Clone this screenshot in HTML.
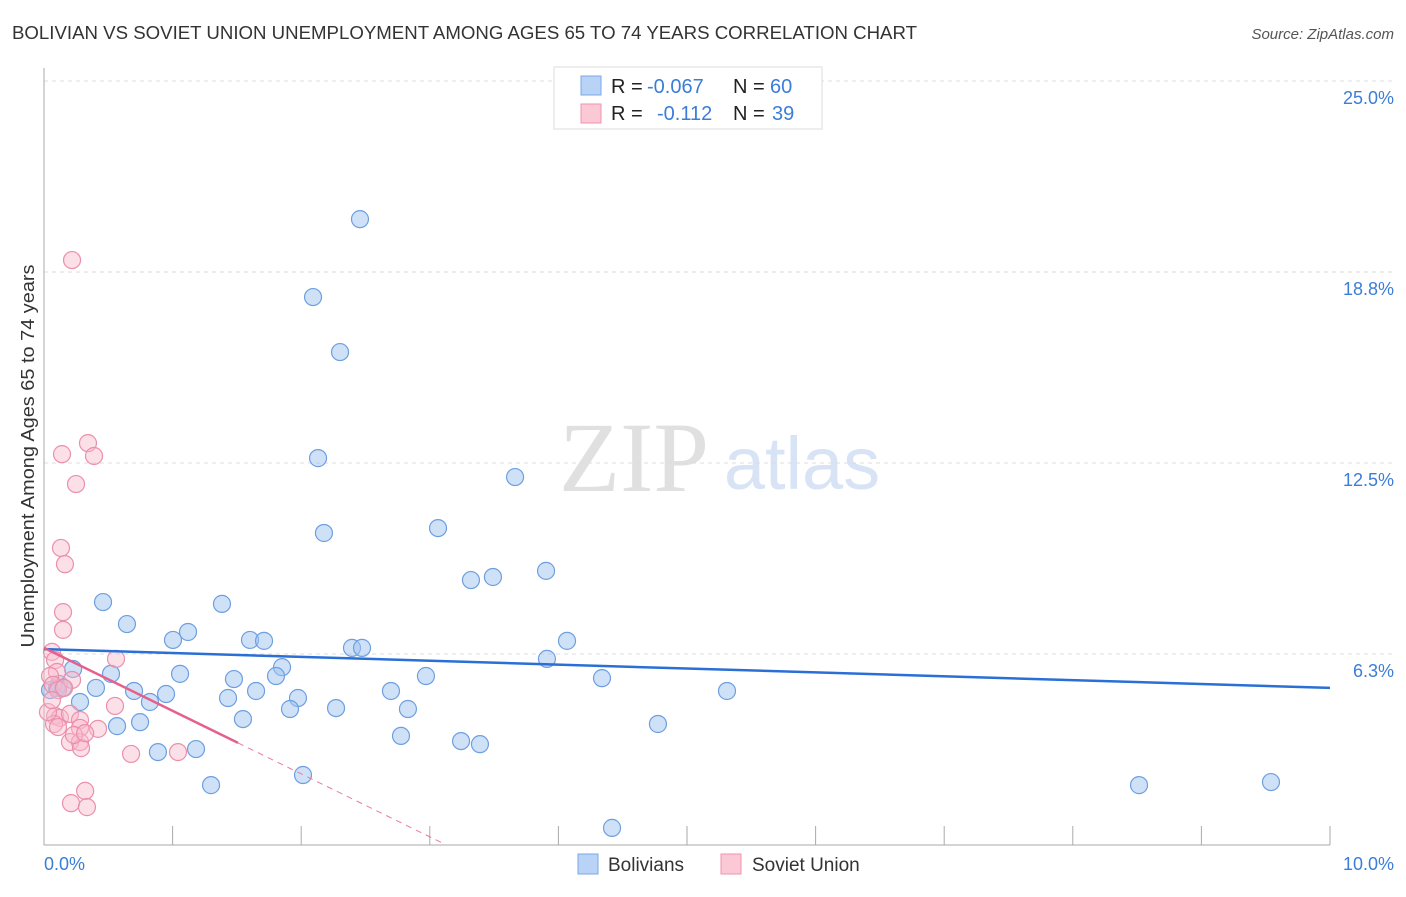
<!DOCTYPE html>
<html><head><meta charset="utf-8"><style>
body{margin:0;background:#fff;font-family:"Liberation Sans",sans-serif;}
</style></head><body>
<svg id="chart" width="1406" height="892" xmlns="http://www.w3.org/2000/svg" font-family="Liberation Sans, sans-serif">
<text x="12" y="39" font-size="18" fill="#333" textLength="905" lengthAdjust="spacingAndGlyphs">BOLIVIAN VS SOVIET UNION UNEMPLOYMENT AMONG AGES 65 TO 74 YEARS CORRELATION CHART</text>
<text x="1394" y="39" font-size="15" fill="#555" font-style="italic" text-anchor="end">Source: ZipAtlas.com</text>
<g>
<text x="634" y="491" font-size="100" fill="#e0e0e0" font-family="Liberation Serif, serif" text-anchor="middle">ZIP</text>
<text x="802" y="489" font-size="74" fill="#d8e4f5" text-anchor="middle">atlas</text>
</g>
<g id="grid"></g>
<g id="axes"></g>
<g id="marks"></g>
<text transform="translate(34,456) rotate(-90)" font-size="18" fill="#333" text-anchor="middle" textLength="383" lengthAdjust="spacingAndGlyphs">Unemployment Among Ages 65 to 74 years</text>
<text x="44" y="870" font-size="18" fill="#3b7dd8">0.0%</text>
<text x="1394" y="870" font-size="18" fill="#3b7dd8" text-anchor="end">10.0%</text>
<g>
<rect x="554" y="67" width="268" height="62" fill="#fff" stroke="#ddd"/>
<rect x="581" y="76" width="20" height="19" fill="#b8d3f5" stroke="#7aa8e6"/>
<rect x="581" y="104" width="20" height="19" fill="#fbc8d6" stroke="#ef93ad"/>
<text x="611" y="93" font-size="20" fill="#222">R = <tspan x="647" fill="#3b7dd8">-0.067</tspan><tspan x="733">N = </tspan><tspan x="770" fill="#3b7dd8">60</tspan></text>
<text x="611" y="120" font-size="20" fill="#222">R = <tspan x="657" fill="#3b7dd8">-0.112</tspan><tspan x="733">N = </tspan><tspan x="772" fill="#3b7dd8">39</tspan></text>
</g>
<g>
<rect x="578" y="854" width="20" height="20" fill="#b8d3f5" stroke="#7aa8e6"/>
<text x="608" y="871" font-size="19" fill="#333">Bolivians</text>
<rect x="721" y="854" width="20" height="20" fill="#fbc8d6" stroke="#ef93ad"/>
<text x="752" y="871" font-size="19" fill="#333">Soviet Union</text>
</g>
</svg>
<script>
const yTicks=[6.25,12.5,18.75,25];
const yTickLabels=["6.3%","12.5%","18.8%","25.0%"];
const xTicks=[0,1,2,3,4,5,6,7,8,9,10];
const bolX=[2.457,2.092,2.302,2.131,3.663,3.064,2.177,3.320,3.491,3.904,0.459,1.384,0.645,1.120,1.003,1.602,1.711,2.395,2.473,4.067,3.911,0.226,0.521,1.058,1.851,1.804,1.477,2.970,4.339,0.117,0.101,0.148,0.404,0.700,0.949,1.649,2.698,5.311,1.431,1.975,0.280,0.824,1.913,2.271,2.830,1.547,0.747,0.568,4.774,2.776,3.243,3.390,0.886,1.182,2.014,1.299,8.515,9.541,4.417,0.047];
const bolY=[20.48,17.93,16.13,12.66,12.04,10.37,10.21,8.67,8.77,8.97,7.95,7.89,7.23,6.97,6.71,6.71,6.68,6.45,6.45,6.68,6.09,5.76,5.60,5.60,5.82,5.53,5.43,5.53,5.46,5.27,5.14,5.14,5.14,5.04,4.94,5.04,5.04,5.04,4.81,4.81,4.68,4.68,4.45,4.48,4.45,4.12,4.02,3.89,3.96,3.57,3.40,3.30,3.04,3.14,2.29,1.96,1.96,2.06,0.56,5.07];
const sovX=[0.218,0.342,0.140,0.389,0.249,0.132,0.163,0.148,0.148,0.560,0.062,0.086,0.101,0.047,0.218,0.070,0.109,0.552,0.086,0.124,0.078,0.109,0.202,0.280,0.280,0.420,0.202,0.280,0.288,0.677,1.042,0.320,0.210,0.334,0.031,0.062,0.233,0.156,0.320];
const sovY=[19.14,13.15,12.79,12.73,11.81,9.72,9.19,7.62,7.04,6.09,6.32,6.05,5.66,5.53,5.40,5.24,5.07,4.55,4.22,4.16,3.96,3.86,4.29,4.09,3.83,3.80,3.37,3.37,3.17,2.98,3.04,1.77,1.37,1.24,4.35,4.74,3.60,5.14,3.66];
const bolTrend=[6.41,5.14];
const sovTrend=[6.45,3.34,0.04];
const sovTrendX=[0,1.509,3.11];

const X=v=>44+v*128.6, Y=v=>845-v*30.56;
const NS="http://www.w3.org/2000/svg";
function mk(tag,attrs,parent){const e=document.createElementNS(NS,tag);for(const k in attrs)e.setAttribute(k,attrs[k]);parent.appendChild(e);return e;}
const grid=document.getElementById('grid'),axes=document.getElementById('axes'),marks=document.getElementById('marks');
yTicks.forEach((t,i)=>{
 const l=mk('line',{x1:44,x2:1394,y1:Y(t),y2:Y(t),stroke:'#ddd','stroke-dasharray':'4,4'},grid);
 
 
 const tx=mk('text',{x:1394,y:Y(t)+23,'font-size':18,fill:'#3b7dd8','text-anchor':'end'},grid);
 tx.textContent=yTickLabels[i];
 
 
});
const ya=mk('line',{x1:44,x2:44,y1:68,y2:845,stroke:'#aaa'},axes);


const xa=mk('line',{x1:44,x2:1330,y1:845,y2:845,stroke:'#aaa'},axes);


xTicks.forEach(t=>{
 const l=mk('line',{x1:X(t),x2:X(t),y1:826,y2:845,stroke:'#aaa'},axes);
 
 
});
bolX.forEach((x,i)=>{
 const c=mk('circle',{cx:X(x),cy:Y(bolY[i]),r:8.5,fill:'rgba(160,196,240,0.5)',stroke:'#6d9fe0','stroke-width':1.2},marks);
 
 
});
sovX.forEach((x,i)=>{
 const c=mk('circle',{cx:X(x),cy:Y(sovY[i]),r:8.5,fill:'rgba(248,186,204,0.45)',stroke:'#ec8fab','stroke-width':1.2},marks);
 
 
});
const bl=mk('line',{x1:X(0),y1:Y(bolTrend[0]),x2:X(10),y2:Y(bolTrend[1]),stroke:'#2a6fd6','stroke-width':2.5},marks);


const sl=mk('line',{x1:X(sovTrendX[0]),y1:Y(sovTrend[0]),x2:X(sovTrendX[1]),y2:Y(sovTrend[1]),stroke:'#e5608a','stroke-width':2.5},marks);


const sd=mk('line',{x1:X(sovTrendX[1]),y1:Y(sovTrend[1]),x2:X(sovTrendX[2]),y2:Y(sovTrend[2]),stroke:'#e87c9c','stroke-width':1,'stroke-dasharray':'6,5'},marks);


</script>
</body></html>
